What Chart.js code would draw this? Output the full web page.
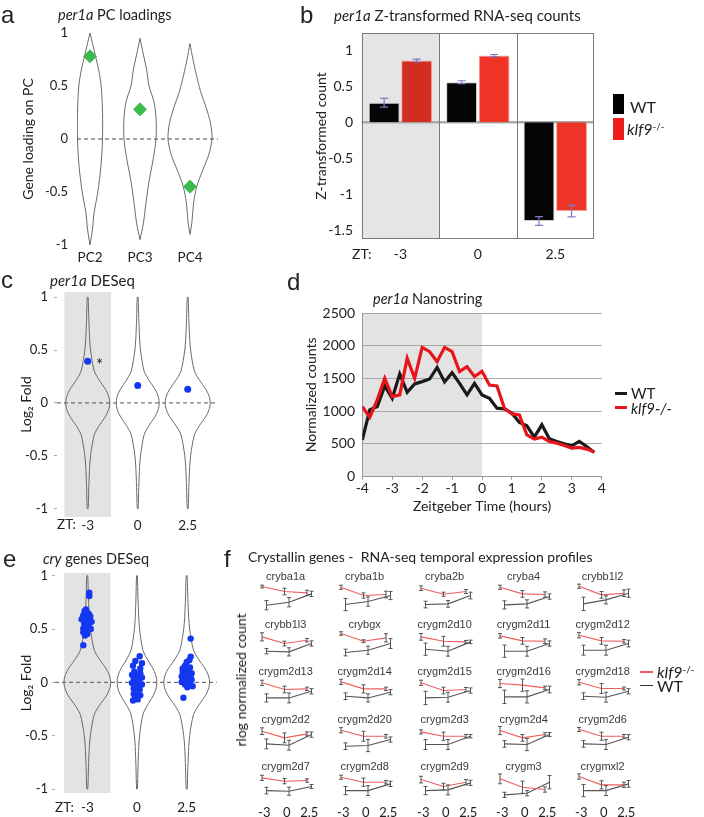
<!DOCTYPE html>
<html><head><meta charset="utf-8">
<script src="https://cdn.jsdelivr.net/npm/chart.js@4.4.1/dist/chart.umd.min.js"></script>
<style>
body{margin:0;background:#fff;}
#wrap{position:relative;width:704px;height:817px;overflow:hidden;background:#fff;font-family:Lato,'Open Sans',sans-serif;color:#222;}
canvas{position:absolute;}
.t{position:absolute;white-space:nowrap;line-height:1;}
.sq{position:absolute;}
sup{font-size:0.62em;vertical-align:0.55em;line-height:0;}
</style></head>
<body><div id="wrap"></div>
<script>
// ================= DATA =================
// panel a
const pcNames = ['PC2', 'PC3', 'PC4'];
const pcLoading = [0.78, 0.28, -0.45];
const pcViolinLevels = [
  [1, 0.8, 0.65, 0.5, 0.25, 0, -0.25, -0.5, -0.7, -0.85, -1],
  [0.95, 0.8, 0.65, 0.5, 0.35, 0.2, 0, -0.2, -0.4, -0.6, -0.8, -0.95],
  [0.9, 0.75, 0.6, 0.45, 0.3, 0.15, 0, -0.15, -0.3, -0.45, -0.6, -0.8, -0.9]
];
const pcViolinWidth = [
  [0, 0.10, 0.174, 0.224, 0.25, 0.25, 0.22, 0.156, 0.08, 0.05, 0],
  [0, 0.066, 0.134, 0.18, 0.28, 0.32, 0.32, 0.26, 0.18, 0.12, 0.066, 0],
  [0, 0.06, 0.13, 0.21, 0.32, 0.41, 0.44, 0.374, 0.25, 0.134, 0.074, 0.034, 0]
];
const loadingTicks = [-1, -0.5, 0, 0.5, 1];

// panel b
const ztLabels = ['-3', '0', '2.5'];
const zWT = [0.27, 0.556, -1.375];
const zWTerr = [0.06, 0.02, 0.06];
const zKlf = [0.857, 0.926, -1.236];
const zKlfErr = [0.02, 0.015, 0.08];
const zTicks = [-1.5, -1, -0.5, 0, 0.5, 1];

// panels c and e (DESeq violins)
const foldTicks = [-1, -0.5, 0, 0.5, 1];
const dsLevels = [1.0, 0.8, 0.6, 0.5, 0.4, 0.3, 0.25, 0.2, 0.15, 0.1, 0.05, 0, -0.05, -0.1, -0.15, -0.2, -0.25, -0.3, -0.4, -0.5, -0.6, -0.8, -1.0];
const dsDensity = [0.02, 0.05, 0.09, 0.13, 0.2, 0.3, 0.42, 0.57, 0.74, 0.88, 0.97, 1, 0.97, 0.88, 0.74, 0.57, 0.42, 0.3, 0.2, 0.13, 0.09, 0.05, 0.02];
const cViolinHalf = [0.44, 0.43, 0.45];
const per1aFold = [0.395, 0.165, 0.13];
const eViolinHalf = [0.47, 0.40, 0.46];
const cryFoldM3 = [0.84, 0.81, 0.684, 0.669, 0.653, 0.629, 0.592, 0.607, 0.592, 0.577, 0.561, 0.567, 0.537, 0.506, 0.515, 0.485, 0.469, 0.454, 0.439, 0.347, 0.62, 0.55, 0.50, 0.58, 0.64];
const cryJitM3 = [0.04, 0.04, -0.026, -0.054, 0, -0.08, -0.114, -0.026, 0.054, 0.02, -0.046, 0.086, 0, -0.08, 0.04, -0.026, -0.08, 0, -0.046, -0.08, 0.06, -0.06, 0.07, -0.01, 0.03];
const cryFold0 = [0.245, 0.2, 0.18, 0.156, 0.13, 0.1, 0.086, 0.07, 0.055, 0.046, 0.034, 0.025, 0.01, -0.006, -0.015, -0.037, -0.058, -0.067, -0.098, -0.11, -0.12, -0.144, -0.17, -0.16, -0.02];
const cryJit0 = [0.054, -0.034, 0.1, -0.08, 0.066, -0.054, 0.066, -0.1, 0, 0.1, -0.066, 0.034, -0.034, -0.1, 0.066, 0, -0.066, 0.054, -0.034, -0.066, 0.066, -0.034, -0.08, 0.014, 0.1];
const cryFold25 = [0.41, 0.24, 0.21, 0.156, 0.14, 0.117, 0.1, 0.086, 0.07, 0.055, 0.046, 0.034, 0.025, 0.01, 0.003, -0.006, -0.02, -0.037, -0.046, -0.144, 0.19, 0.13, 0.095, 0.015, 0.064];
const cryJit25 = [0.08, 0.08, 0.054, -0.034, 0.066, -0.014, -0.08, 0.1, 0, -0.1, 0.054, -0.054, 0.1, 0, -0.1, 0.066, -0.034, 0.12, 0.014, -0.066, 0, -0.08, 0.034, -0.054, 0.08];

// panel d
const ntTime = [-4, -3.75, -3.5, -3.25, -3, -2.75, -2.5, -2.25, -2, -1.75, -1.5, -1.25, -1, -0.75, -0.5, -0.25, 0, 0.25, 0.5, 0.75, 1, 1.25, 1.5, 1.75, 2, 2.25, 2.5, 2.75, 3, 3.25, 3.5, 3.75];
const ntWT = [563, 1020, 1071, 1386, 1198, 1569, 1289, 1416, 1452, 1492, 1670, 1447, 1589, 1426, 1249, 1426, 1249, 1198, 1046, 1036, 970, 827, 777, 604, 792, 579, 538, 503, 472, 538, 462, 371];
const ntKlf = [1071, 909, 1173, 1503, 1223, 1249, 1807, 1503, 1975, 1909, 1756, 1975, 1909, 1604, 1680, 1528, 1610, 1401, 1386, 1046, 959, 944, 640, 574, 604, 538, 513, 477, 437, 447, 421, 376];
const hourTicks = [-4, -3, -2, -1, 0, 1, 2, 3, 4];
const countTicks = [0, 500, 1000, 1500, 2000, 2500];

// panel f
const genes = ['cryba1a', 'cryba1b', 'cryba2b', 'cryba4', 'crybb1l2',
  'crybb1l3', 'crybgx', 'crygm2d10', 'crygm2d11', 'crygm2d12',
  'crygm2d13', 'crygm2d14', 'crygm2d15', 'crygm2d16', 'crygm2d18',
  'crygm2d2', 'crygm2d20', 'crygm2d3', 'crygm2d4', 'crygm2d6',
  'crygm2d7', 'crygm2d8', 'crygm2d9', 'crygm3', 'crygmxl2'];
const klfMeans = [[8.85, 7.13, 6.67], [8.6, 5.75, 6.1], [8.28, 6.2, 7.13], [8.6, 6.32, 6.1], [8.97, 5.98, 6.55],
  [8.05, 5.75, 6.9], [9.2, 6.55, 7.7], [8.05, 6.55, 6.32], [8.4, 6.67, 6.55], [8.6, 6.67, 6.55],
  [8.4, 6.1, 6.32], [8.74, 6.32, 6.32], [8.4, 5.75, 6.1], [8.16, 7.6, 6.67], [8.6, 6.44, 6.44],
  [8.28, 5.98, 7.36], [8.6, 6.55, 6.55], [8.05, 6.55, 6.55], [8.5, 5.98, 7.13], [8.85, 6.55, 6.55],
  [8.4, 7.25, 7.47], [8.6, 6.9, 6.9], [7.8, 5.4, 6.9], [8.05, 5.17, 4.37], [8.85, 5.98, 5.98]];
const klfErr = [[.46, 1.15, .9], [.7, .9, 1.15], [.8, .7, .7], [.7, 1.15, .9], [.7, 1.15, 1.15],
  [1.4, .8, .6], [.6, .5, 1.4], [1.15, 1.7, .5], [.8, 1.15, .8], [.9, 1.15, .6],
  [.9, 1.15, .6], [.9, 1.4, .6], [.9, 1.15, .7], [1.4, 2.1, .6], [.9, 1.7, .5],
  [1.15, 1.7, .7], [.9, 1.7, .6], [.7, 1.4, .6], [1.4, 1.15, .6], [.7, 1.4, .6],
  [.9, .9, .6], [.7, 1.4, .6], [1.15, 1.15, .9], [1.7, 2.1, .9], [.9, 1.4, .9]];
const wtMeans = [[2.41, 3.45, 6.32], [2.64, 3.68, 5.75], [2.64, 2.87, 5.75], [2.53, 2.87, 5.4], [2.87, 4.25, 6.55],
  [3.1, 2.87, 5.75], [2.64, 3.45, 5.75], [3.8, 3.1, 6.32], [3.1, 3.1, 5.75], [3.45, 3.45, 5.75],
  [3.2, 3.2, 5.5], [3.8, 3.2, 5.17], [3.2, 3.45, 5.75], [3.56, 3.56, 6.1], [3.8, 3.45, 5.5],
  [3.9, 3.45, 7.1], [3.1, 3.33, 5.4], [3.68, 3.68, 6.55], [3.9, 3.68, 7.13], [3.9, 3.68, 6.2],
  [4.0, 3.8, 5.4], [4.0, 4.0, 6.32], [4.0, 4.25, 6.67], [2.53, 3.1, 6.9], [4.0, 4.0, 6.32]];
const wtErr = [[1.6, 1.6, .9], [2.1, 1.6, 1.4], [1.15, 1.15, 1.15], [1.4, 1.4, .9], [2.3, 1.4, 1.4],
  [.9, 1.4, .9], [1.15, 1.4, 1.7], [2.1, 1.7, .6], [2.1, 1.7, .9], [1.7, 1.7, 1.15],
  [1.4, 1.7, .9], [1.15, 1.4, .9], [2.3, 1.7, .9], [2.3, 2.1, 1.15], [1.15, 1.7, .9],
  [1.7, 1.7, .9], [1.15, 2.1, .9], [1.7, 1.7, .6], [1.15, 2.1, .7], [1.15, 1.7, .9],
  [1.15, 1.4, .7], [1.4, 1.7, .9], [1.4, 1.7, .9], [.9, .9, 2.3], [2.1, 1.7, 1.15]];

// ================= SETUP =================
Chart.defaults.font.family = "Lato, 'Open Sans', sans-serif";
Chart.defaults.font.size = 13;
Chart.defaults.color = '#222';
Chart.defaults.animation = false;
Chart.defaults.responsive = false;
Chart.defaults.plugins.legend.display = false;
Chart.defaults.plugins.tooltip.enabled = false;

const wrap = document.getElementById('wrap');
function mkCanvas(left, top, w, h) {
  const c = document.createElement('canvas');
  c.width = w; c.height = h;
  c.style.left = left + 'px'; c.style.top = top + 'px';
  c.style.width = w + 'px'; c.style.height = h + 'px';
  wrap.appendChild(c);
  return c;
}
function txt(html, x, y, size, extra) {
  const d = document.createElement('div');
  d.className = 't'; d.innerHTML = html;
  d.style.left = x + 'px'; d.style.top = y + 'px'; d.style.fontSize = size + 'px';
  d.style.transform = 'translateY(-50%)';
  Object.assign(d.style, extra || {});
  wrap.appendChild(d);
  return d;
}
function box(x, y, w, h, color) {
  const d = document.createElement('div');
  d.className = 'sq';
  Object.assign(d.style, {left: x + 'px', top: y + 'px', width: w + 'px', height: h + 'px', background: color});
  wrap.appendChild(d);
}
function violinPoints(center, levels, widths, scale) {
  const right = levels.map((l, i) => ({x: center + widths[i] * scale, y: l}));
  const left = levels.map((l, i) => ({x: center - widths[i] * scale, y: l})).reverse();
  return right.concat(left, [right[0]]);
}
function ticksFrom(arr) { return s => { s.ticks = arr.map(v => ({value: v})); }; }

function bandPlugin(bands, color) {
  return { id: 'band', beforeDraw(chart) {
    const {ctx, chartArea: a, scales: {x}} = chart;
    ctx.save(); ctx.fillStyle = color;
    bands.forEach(([x0, x1]) => {
      const p0 = Math.max(a.left, x.getPixelForValue(x0));
      const p1 = Math.min(a.right, x.getPixelForValue(x1));
      ctx.fillRect(p0, a.top, p1 - p0, a.bottom - a.top);
    });
    ctx.restore();
  }};
}
function zeroLinePlugin(color, width, dash) {
  return { id: 'zeroLine', beforeDatasetsDraw(chart) {
    const {ctx, chartArea: a, scales: {y}} = chart;
    const py = y.getPixelForValue(0);
    ctx.save(); ctx.strokeStyle = color; ctx.lineWidth = width; ctx.setLineDash(dash);
    ctx.beginPath(); ctx.moveTo(a.left, py); ctx.lineTo(a.right, py); ctx.stroke();
    ctx.restore();
  }};
}
function errorBarPlugin(errs, color, cap, width) {
  return { id: 'errBars', afterDatasetsDraw(chart) {
    const {ctx, scales: {y}} = chart;
    ctx.save(); ctx.strokeStyle = color; ctx.lineWidth = width;
    chart.data.datasets.forEach((ds, di) => {
      const e = errs[di]; if (!e) return;
      chart.getDatasetMeta(di).data.forEach((el, i) => {
        const raw = ds.data[i];
        const v = typeof raw === 'object' ? raw.y : raw;
        const x = el.x, y0 = y.getPixelForValue(v - e[i]), y1 = y.getPixelForValue(v + e[i]);
        ctx.beginPath();
        ctx.moveTo(x, y0); ctx.lineTo(x, y1);
        ctx.moveTo(x - cap, y0); ctx.lineTo(x + cap, y0);
        ctx.moveTo(x - cap, y1); ctx.lineTo(x + cap, y1);
        ctx.stroke();
      });
    });
    ctx.restore();
  }};
}
function framePlugin(color) {
  return { id: 'frame', afterDatasetsDraw(chart) {
    const {ctx, chartArea: a, scales: {x}} = chart;
    ctx.save(); ctx.strokeStyle = color; ctx.lineWidth = 1;
    ctx.strokeRect(Math.round(a.left) + 0.5, Math.round(a.top) + 0.5, Math.round(a.width) - 1, Math.round(a.height) - 1);
    for (let i = 1; i < chart.data.labels.length; i++) {
      const p = Math.round(x.getPixelForValue(i - 0.5)) + 0.5;
      ctx.beginPath(); ctx.moveTo(p, a.top); ctx.lineTo(p, a.bottom); ctx.stroke();
    }
    ctx.restore();
  }};
}
const noGrid = {display: false, drawTicks: false};
const noBorder = {display: false};

// ================= PANEL A =================
new Chart(mkCanvas(0, 8, 243, 277), {
  type: 'scatter',
  data: { datasets: [
    {data: pcNames.map((n, i) => ({x: i + 1, y: pcLoading[i]})), pointStyle: 'rectRot', pointRadius: 6.5,
     backgroundColor: '#3dba4e', borderColor: '#3dba4e'},
    ...pcNames.map((n, i) => ({data: violinPoints(i + 1, pcViolinLevels[i], pcViolinWidth[i], 1), showLine: true,
      borderColor: '#6a6a6a', borderWidth: 1, pointRadius: 0, tension: 0.3}))
  ]},
  options: {
    layout: {padding: {left: 19.6, top: 25, right: 25, bottom: 0}},
    scales: {
      x: {type: 'linear', min: 0.74, max: 3.56, afterBuildTicks: s => { s.ticks = pcNames.map((n, i) => ({value: i + 1})); },
          ticks: {callback: v => pcNames[v - 1], padding: 5, font: {size: 13.5}, autoSkip: false, maxRotation: 0},
          grid: noGrid, border: noBorder, afterFit: s => { s.height = 40; }},
      y: {min: -1, max: 1, afterBuildTicks: ticksFrom(loadingTicks), ticks: {callback: v => String(v), padding: 9},
          grid: noGrid, border: noBorder,
          title: {display: true, text: 'Gene loading on PC', font: {size: 14}, padding: 0},
          afterFit: s => { s.width = 57.4; }}
    }
  },
  plugins: [zeroLinePlugin('#444', 1, [4, 3])]
});

// ================= PANEL B =================
new Chart(mkCanvas(300, 8, 319, 256), {
  type: 'bar',
  data: { labels: ztLabels, datasets: [
    {label: 'WT', data: zWT, backgroundColor: '#050505', borderColor: '#d0d0d0', borderWidth: 1},
    {label: 'klf9-/-', data: zKlf, backgroundColor: ['#d52c21', '#ee3427', '#ee3427'], borderColor: '#f3a6a0', borderWidth: 1}
  ]},
  options: {
    datasets: {bar: {categoryPercentage: 0.84, barPercentage: 0.95}},
    layout: {padding: {left: 13.3, top: 25, right: 25, bottom: 0}},
    scales: {
      x: {grid: noGrid, border: noBorder, ticks: {padding: 7, font: {size: 14}}, afterFit: s => { s.height = 25; }},
      y: {min: -1.625, max: 1.24, afterBuildTicks: ticksFrom(zTicks), ticks: {callback: v => String(v), padding: 8.7, font: {size: 14}},
          grid: noGrid, border: noBorder,
          title: {display: true, text: 'Z-transformed count', font: {size: 14}, padding: 0},
          afterFit: s => { s.width = 48.4; }}
    }
  },
  plugins: [bandPlugin([[-0.5, 0.5]], '#e5e5e5'), zeroLinePlugin('#a9a9a9', 2.5, []), framePlugin('#7a7a7a'),
            errorBarPlugin([zWTerr, zKlfErr], '#7b7bc6', 4, 1.2)]
});

// ================= PANELS C & E =================
function deseqChart(canvas, pad, yW, xH, yMin, yMax, xMin, xMax, halfs, pointSets, radius, tickPad, labPad) {
  const ds = [];
  pointSets.forEach(p => ds.push({data: p, backgroundColor: '#1438f0', borderColor: '#1438f0', pointRadius: radius, borderWidth: 0}));
  halfs.forEach((h, i) => ds.push({data: violinPoints(i + 1, dsLevels, dsDensity, h), showLine: true,
    borderColor: '#6a6a6a', borderWidth: 1, pointRadius: 0, tension: 0.3}));
  return new Chart(canvas, {
    type: 'scatter',
    data: {datasets: ds},
    options: {
      layout: {padding: pad},
      scales: {
        x: {type: 'linear', min: xMin, max: xMax, afterBuildTicks: s => { s.ticks = ztLabels.map((n, i) => ({value: i + 1})); },
            ticks: {callback: v => ztLabels[v - 1], padding: labPad, font: {size: 13.5}, autoSkip: false, maxRotation: 0},
            grid: noGrid, border: noBorder, afterFit: s => { s.height = xH; }},
        y: {min: yMin, max: yMax, afterBuildTicks: ticksFrom(foldTicks), ticks: {callback: v => String(v), padding: tickPad},
            grid: {drawOnChartArea: false, drawTicks: true, tickLength: 3, tickColor: '#aaa'}, border: noBorder,
            title: {display: true, text: 'Log\u2082 Fold', font: {size: 14}, padding: 0},
            afterFit: s => { s.width = yW; }}
      }
    },
    plugins: [bandPlugin([[0.533, 1.467]], '#e3e3e3'), zeroLinePlugin('#555', 1, [4, 3])]
  });
}
deseqChart(mkCanvas(0, 267, 243, 270), {left: 17.6, top: 25, right: 25, bottom: 0}, 39.4, 20,
  -1.08, 1.05, 0.386, 3.606, cViolinHalf,
  [per1aFold.map((v, i) => ({x: i + 1, y: v}))], 3.5, 6, 1);

deseqChart(mkCanvas(0, 548, 242, 269), {left: 17.6, top: 25, right: 25.3, bottom: 0}, 37.4, 24,
  -1.0375, 1.025, 0.35, 3.604, eViolinHalf,
  [cryFoldM3.map((v, i) => ({x: 1 + cryJitM3[i], y: v})),
   cryFold0.map((v, i) => ({x: 2 + cryJit0[i], y: v})),
   cryFold25.map((v, i) => ({x: 3 + cryJit25[i], y: v}))], 3.2, 4, 7);

// ================= PANEL D =================
new Chart(mkCanvas(295, 288, 332, 227), {
  type: 'scatter',
  data: { datasets: [
    {data: ntTime.map((t, i) => ({x: t, y: ntKlf[i]})), showLine: true, borderColor: '#e8141c', borderWidth: 3.2, pointRadius: 0},
    {data: ntTime.map((t, i) => ({x: t, y: ntWT[i]})), showLine: true, borderColor: '#1a1a1a', borderWidth: 3.2, pointRadius: 0}
  ]},
  options: {
    layout: {padding: {left: 8.3, top: 25, right: 25.3, bottom: 0}},
    scales: {
      x: {type: 'linear', min: -4, max: 4, afterBuildTicks: ticksFrom(hourTicks), ticks: {callback: v => String(v), padding: 0, font: {size: 14}},
          grid: {drawOnChartArea: false, drawTicks: true, tickLength: 3, tickColor: '#999'}, border: {color: '#999'},
          title: {display: true, text: 'Zeitgeber Time (hours)', font: {size: 14}, padding: 0},
          afterFit: s => { s.height = 38.3; }},
      y: {min: 0, max: 2500, afterBuildTicks: ticksFrom(countTicks), ticks: {callback: v => String(v), padding: 7.3, font: {size: 14}},
          grid: {color: '#a8a8a8', drawTicks: false}, border: {color: '#999'},
          title: {display: true, text: 'Normalized counts', font: {size: 14}, padding: 0},
          afterFit: s => { s.width = 59; }}
    }
  },
  plugins: [bandPlugin([[-4, 0]], '#e3e3e3')]
});

// ================= PANEL F =================
const miniUnit = 22.5, miniColStep = 79.2, miniCol0 = 287, miniRow0 = 577, miniRowStep = 47.5;
genes.forEach((g, k) => {
  const c = k % 5, r = Math.floor(k / 5), last = r === 4;
  const areaLeft = miniCol0 + c * miniColStep - 1.5 * miniUnit;
  const titleY = miniRow0 + r * miniRowStep;
  const cv = mkCanvas(areaLeft - 12, titleY - 6.6, 90, last ? 63 : 44);
  const xScale = {type: 'linear', display: last, min: -0.5, max: 2.4,
    afterBuildTicks: s => { s.ticks = ztLabels.map((n, i) => ({value: i})); },
    ticks: {callback: v => ztLabels[v], padding: 2.4, font: {size: 13}, autoSkip: false, maxRotation: 0},
    grid: noGrid, border: noBorder};
  if (last) xScale.afterFit = s => { s.height = 20.8; };
  new Chart(cv, {
    type: 'scatter',
    data: {datasets: [
      {data: klfMeans[k].map((v, i) => ({x: i - 0.1, y: v})), showLine: true, borderColor: '#ef5d5d', borderWidth: 1.1, pointRadius: 0},
      {data: wtMeans[k].map((v, i) => ({x: i + 0.1, y: v})), showLine: true, borderColor: '#555', borderWidth: 1.1, pointRadius: 0}
    ]},
    options: {
      layout: {padding: {left: 12, right: 90 - 12 - 65.25, top: 0, bottom: last ? 0 : 1.8}},
      plugins: {title: {display: true, text: g, color: '#3a3a3a', padding: 0,
        font: {family: "'Liberation Sans', Arial, sans-serif", size: 11, weight: 'normal', lineHeight: 1.2}}},
      scales: {x: xScale, y: {display: false, min: 0, max: 10}}
    },
    plugins: [errorBarPlugin([klfErr[k], wtErr[k]], '#555', 2, 1)]
  });
});

// ================= TEXT / LEGENDS =================
const LF = {fontFamily: "'Liberation Sans', Arial, sans-serif"};
txt('a', 1, 15, 24, LF); txt('b', 300, 15, 24, LF); txt('c', 1, 280, 24, LF);
txt('d', 287, 282, 24, LF); txt('e', 3, 559, 24, LF); txt('f', 224, 559, 24, LF);

txt('<i>per1a</i> PC loadings', 58, 15, 14.5);
txt('<i>per1a</i> Z-transformed RNA-seq counts', 334, 15, 15);
txt('<i>per1a</i> DESeq', 50, 280, 15);
txt('<i>per1a</i> Nanostring', 373, 299, 14.5);
txt('<i>cry</i> genes DESeq', 43, 559, 14.5);
txt('Crystallin genes -&nbsp; RNA-seq temporal expression profiles', 248, 557, 14);

txt('ZT:', 352, 254, 14);
txt('ZT:', 57, 525, 13.5);
txt('ZT:', 55, 808, 13.5);
txt('*', 96, 364, 17);

// legend b
box(612.7, 94, 11.5, 20, '#000');
box(612.7, 118, 11.5, 22, '#ee1c1c');
txt('WT', 630, 107, 16);
txt('<i>klf9</i><sup>-/-</sup>', 627, 129, 16);

// legend d
box(615, 391.8, 12, 3.2, '#1a1a1a');
box(615, 405.8, 12, 3.2, '#e8141c');
txt('WT', 631, 393, 15);
txt('<i>klf9-/-</i>', 631, 407.5, 15);

// legend f
box(640, 671, 13, 1.5, '#ef5d5d');
box(640, 684.5, 13, 1.5, '#333');
txt('<i>klf9</i><sup>-/-</sup>', 657, 672, 16);
txt('WT', 657, 685.5, 16);

// f y title
txt('rlog normalized count', 241, 680, 14, {transform: 'translate(-50%,-50%) rotate(-90deg)'});
</script>
</body></html>
